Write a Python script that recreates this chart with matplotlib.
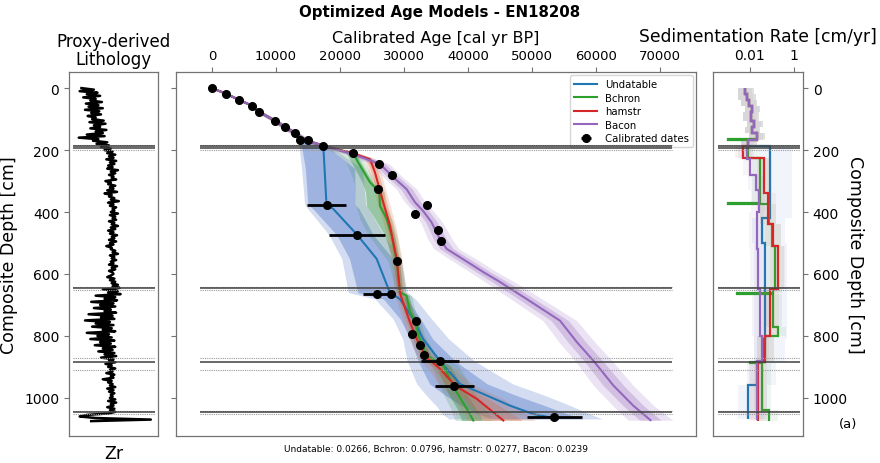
" age model comparison plot for EN18208 "
import matplotlib.pyplot as plt
import numpy as np

# Zr proxy trace, one value every 5 cm (arbitrary units)
zr_step = 5
zr = [14, 28, 12, 32, 20, 35, 16, 30, 24, 37, 19, 33, 22, 38, 18, 34, 25, 36, 21, 30,
      26, 39, 23, 41, 28, 35, 24, 42, 30, 38, 20, 40, 11, 33, 27, 43, 31, 45, 36, 47,
      40, 49, 43, 52, 45, 50, 42, 53, 46, 51, 44, 49, 43, 55, 47, 52, 45, 50, 48, 53,
      41, 47, 44, 52, 46, 50, 43, 54, 40, 48, 45, 51, 47, 56, 44, 50, 46, 53, 49, 51,
      47, 55, 46, 52, 49, 53, 45, 51, 48, 55, 47, 52, 44, 50, 46, 54, 48, 51, 45, 53,
      46, 50, 42, 48, 47, 52, 49, 55, 46, 51, 48, 53, 47, 50, 45, 54, 48, 52, 45, 49,
      50, 47, 43, 51, 46, 52, 48, 55, 49, 57, 38, 55, 44, 58, 30, 52, 40, 54, 25, 50,
      35, 52, 28, 47, 40, 53, 22, 49, 36, 51, 18, 46, 30, 50, 26, 48, 38, 52, 20, 45,
      32, 48, 24, 51, 35, 47, 29, 52, 38, 49, 33, 51, 40, 53, 36, 50, 45, 52, 41, 48,
      44, 52, 46, 49, 42, 51, 47, 50, 38, 48, 44, 49, 46, 52, 43, 50, 45, 51, 47, 49,
      46, 52, 44, 53, 47, 50, 43, 51, 46, 52, 45, 20, 12, 30, 92, 25]

# hiatus / gap depths [cm]
gap_mid = [188, 194, 646, 885, 1047]
gap_edge = [183, 199, 641, 652, 872, 909, 1042, 1053]

# calibrated dates: age [cal yr BP], depth [cm], 1 sigma [yr]
date_age = [0, 2190, 4270, 6300, 7340, 9840, 11400, 12970, 13750, 14950, 17400,
            22080, 26100, 28080, 26000, 33640, 31770, 35260, 35730, 28860, 17920,
            22700, 25830, 27920, 31820, 31300, 32500, 33120, 35625, 37860, 53440]
date_depth = [0, 18, 38, 57, 76, 105, 126, 145, 166, 166, 186,
              211, 246, 282, 325, 376, 406, 457, 492, 559, 376,
              474, 665, 665, 753, 794, 828, 863, 881, 962, 1062]
date_err = [50, 150, 200, 200, 200, 250, 250, 300, 300, 300, 300,
            400, 400, 400, 400, 400, 400, 400, 400, 400, 3100,
            4370, 2280, 500, 400, 400, 400, 400, 2940, 3050, 4300]

# Undatable
und_depth = [0, 18, 38, 57, 76, 105, 126, 145, 166, 186, 260, 376, 390, 474, 551,
             660, 681, 745, 810, 881, 955, 992, 1025, 1052, 1068]
und_age = [0, 2190, 4270, 6300, 7340, 9840, 11400, 12970, 14300, 17400, 17600, 17900,
           18960, 22700, 25730, 27800, 29380, 31450, 33000, 35620, 38750, 42900,
           46560, 50200, 54000]
und_lo68 = [0, 2000, 4000, 6000, 7000, 9500, 11000, 12500, 13700, 14000, 14600, 15000,
            15800, 19500, 21500, 22800, 26800, 29400, 31000, 32200, 34000, 36500,
            39000, 41500, 44000]
und_hi68 = [0, 2400, 4500, 6600, 7700, 10200, 11800, 13400, 14900, 17900, 22300, 22400,
            23000, 25200, 28300, 29400, 30500, 32600, 34500, 38000, 43000, 47500,
            52000, 55500, 58000]
und_lo95 = [0, 1900, 3900, 5900, 6900, 9300, 10800, 12300, 13400, 13600, 14000, 14500,
            15000, 18300, 20300, 21300, 25500, 28300, 29800, 30500, 32000, 33500,
            35000, 36000, 37000]
und_hi95 = [0, 2500, 4600, 6700, 7800, 10400, 12000, 13600, 15200, 18300, 23500, 24000,
            24500, 26800, 29500, 30500, 31800, 34300, 37000, 41000, 47000, 52000,
            56000, 59000, 61000]

# Bchron
bch_depth = [0, 18, 38, 57, 76, 105, 126, 145, 166, 186, 211, 240, 304, 336, 380, 423,
             476, 559, 659, 670, 723, 750, 799, 863, 896, 982, 1035, 1073]
bch_age = [0, 2190, 4270, 6300, 7340, 9840, 11400, 12970, 14300, 17400, 22080, 22850,
           24690, 26150, 26250, 27300, 28080, 28860, 29380, 30400, 30940, 31720, 32240,
           33540, 36140, 38230, 39800, 40830]
bch_lo68 = [0, 2000, 4000, 6000, 7000, 9500, 11000, 12500, 13800, 17000, 21000, 21800,
            23500, 24000, 24170, 25500, 27000, 28300, 29000, 30000, 30500, 31300, 31800,
            33000, 35000, 36800, 38300, 39000]
bch_hi68 = [0, 2400, 4500, 6600, 7700, 10200, 11800, 13400, 14800, 17800, 22500, 23300,
            25100, 26550, 26650, 27700, 28500, 29250, 29800, 30800, 31400, 32200, 32700,
            34200, 37200, 39600, 41300, 42300]
bch_lo95 = [0, 1900, 3900, 5900, 6900, 9300, 10800, 12300, 13500, 16500, 19500, 21000,
            22200, 22340, 22500, 23125, 24500, 27500, 28800, 29600, 30100, 30800, 31300,
            32400, 34300, 36000, 37300, 38000]
bch_hi95 = [0, 2500, 4600, 6700, 7800, 10400, 12000, 13600, 15000, 18000, 23000, 23800,
            25600, 27000, 27100, 28100, 28900, 29600, 30200, 31200, 31800, 32600, 33200,
            35000, 38500, 41000, 42800, 43800]

# hamstr
ham_depth = [0, 18, 38, 57, 76, 105, 126, 145, 166, 186, 211, 229, 272, 369, 444, 552,
             659, 670, 756, 820, 869, 906, 960, 1003, 1073]
ham_age = [0, 2190, 4270, 6300, 7340, 9840, 11400, 12970, 14300, 17400, 22080, 24690,
           25470, 26770, 27810, 28860, 29380, 29500, 30940, 32200, 33540, 35620, 37970,
           41360, 45520]
ham_lo68 = [0, 2000, 4000, 6000, 7000, 9500, 11000, 12500, 13900, 17000, 21600, 24100,
            24900, 26200, 27300, 28400, 28900, 29000, 30400, 31600, 32800, 34700, 36700,
            39500, 42500]
ham_hi68 = [0, 2400, 4500, 6600, 7700, 10200, 11800, 13400, 14700, 17800, 22600, 25200,
            26000, 27300, 28300, 29300, 29850, 30000, 31500, 32800, 34300, 36600, 39300,
            43200, 48500]
ham_lo95 = [0, 1900, 3900, 5900, 6900, 9300, 10800, 12300, 13700, 16800, 21200, 23700,
            24500, 25800, 26900, 28000, 28500, 28600, 29900, 31000, 32100, 33800, 35500,
            37800, 40000]
ham_hi95 = [0, 2500, 4600, 6700, 7800, 10400, 12000, 13600, 14900, 18000, 23000, 25600,
            26400, 27700, 28700, 29700, 30300, 30500, 32000, 33500, 35200, 37800, 41000,
            45500, 50500]

# Bacon
bac_depth = [0, 18, 38, 57, 76, 105, 126, 145, 166, 186, 213, 245, 287, 326, 368, 397,
             433, 487, 519, 552, 594, 626, 681, 751, 820, 880, 960, 1025, 1072]
bac_age = [0, 2190, 4270, 6300, 7340, 9840, 11400, 12970, 14300, 17400, 22000, 26250,
           28300, 30400, 31700, 33000, 34300, 35600, 36670, 39200, 42400, 45000, 49170,
           54375, 57000, 59580, 62700, 65800, 68500]
bac_lo68 = [0, 2000, 4000, 6000, 7000, 9400, 10900, 12400, 13700, 16700, 21200, 25400,
            27400, 29500, 30800, 32100, 33400, 34600, 35600, 38100, 41300, 43800, 47900,
            53000, 55600, 58100, 61100, 64200, 66800]
bac_hi68 = [0, 2400, 4500, 6600, 7700, 10300, 11900, 13500, 14900, 18100, 22800, 27100,
            29200, 31300, 32600, 33900, 35200, 36600, 37700, 40300, 43500, 46200, 50400,
            55700, 58400, 61000, 64300, 67400, 70200]
bac_lo95 = [0, 1800, 3800, 5800, 6800, 9100, 10600, 12100, 13300, 16200, 20600, 24800,
            26800, 28800, 30100, 31400, 32600, 33700, 34700, 37100, 40300, 42700, 46700,
            51700, 54200, 56700, 59600, 62600, 65000]
bac_hi95 = [0, 2600, 4700, 6800, 7900, 10600, 12200, 13800, 15300, 18600, 23400, 27700,
            29800, 32000, 33300, 34600, 36000, 37500, 38600, 41300, 44500, 47300, 51600,
            57000, 59800, 62500, 65800, 69000, 72000]

# sedimentation rates [cm/yr], step edges in depth [cm]
und_sr_edges = [0, 18, 38, 57, 76, 105, 126, 145, 166, 186, 420, 500, 810, 885, 960, 1068]
und_sr = [0.006, 0.007, 0.009, 0.013, 0.011, 0.016, 0.012, 0.02, 0.008,
          0.08, 0.035, 0.05, 0.045, 0.02, 0.008]
und_sr_lo = [0.003, 0.003, 0.004, 0.006, 0.005, 0.007, 0.006, 0.009, 0.004,
             0.02, 0.012, 0.015, 0.015, 0.007, 0.003]
und_sr_hi = [0.015, 0.018, 0.02, 0.03, 0.025, 0.04, 0.03, 0.05, 0.02,
             0.8, 0.4, 0.5, 0.4, 0.15, 0.06]

bch_sr_edges = [0, 18, 38, 57, 76, 105, 126, 145, 163, 166, 186, 225, 372, 375, 440,
                510, 650, 663, 666, 770, 800, 883, 886, 1040, 1073]
bch_sr = [0.006, 0.007, 0.009, 0.013, 0.011, 0.016, 0.012, 0.02, 0.001, 0.008,
          0.008, 0.03, 0.001, 0.07, 0.1, 0.14, 0.11, 0.0026, 0.11, 0.19, 0.05, 0.01,
          0.035, 0.07]
bch_sr_lo = [0.003, 0.003, 0.004, 0.006, 0.005, 0.007, 0.006, 0.009, 0.0008, 0.004,
             0.004, 0.012, 0.0008, 0.03, 0.04, 0.06, 0.05, 0.002, 0.05, 0.08, 0.02,
             0.006, 0.015, 0.03]
bch_sr_hi = [0.015, 0.018, 0.02, 0.03, 0.025, 0.04, 0.03, 0.05, 0.01, 0.02,
             0.02, 0.08, 0.01, 0.15, 0.25, 0.35, 0.3, 0.02, 0.3, 0.45, 0.12,
             0.03, 0.09, 0.18]

ham_sr_edges = [0, 18, 38, 57, 76, 105, 126, 145, 166, 186, 225, 340, 440, 510, 650,
                800, 885, 1073]
ham_sr = [0.006, 0.007, 0.009, 0.013, 0.011, 0.016, 0.012, 0.02, 0.008,
          0.005, 0.045, 0.066, 0.11, 0.19, 0.08, 0.05, 0.023]
ham_sr_lo = [0.003, 0.003, 0.004, 0.006, 0.005, 0.007, 0.006, 0.009, 0.004,
             0.002, 0.02, 0.03, 0.05, 0.08, 0.035, 0.02, 0.01]
ham_sr_hi = [0.015, 0.018, 0.02, 0.03, 0.025, 0.04, 0.03, 0.05, 0.02,
             0.012, 0.1, 0.15, 0.25, 0.4, 0.2, 0.12, 0.06]

bac_sr_edges = [0, 18, 38, 57, 76, 105, 126, 145, 166, 186, 230, 280, 330, 400, 520,
                650, 800, 880, 1072]
bac_sr = [0.006, 0.007, 0.009, 0.013, 0.011, 0.016, 0.012, 0.02, 0.008,
          0.007, 0.01, 0.018, 0.025, 0.02, 0.023, 0.03, 0.035, 0.02]
bac_sr_lo = [0.003, 0.003, 0.004, 0.006, 0.005, 0.007, 0.006, 0.009, 0.004,
             0.003, 0.005, 0.008, 0.011, 0.009, 0.01, 0.013, 0.015, 0.009]
bac_sr_hi = [0.012, 0.014, 0.018, 0.025, 0.022, 0.032, 0.025, 0.04, 0.016,
             0.015, 0.02, 0.04, 0.05, 0.045, 0.05, 0.065, 0.07, 0.045]

names = ["Undatable", "Bchron", "hamstr", "Bacon"]
scores = [0.0266, 0.0796, 0.0277, 0.0239]
line_cols = ["#1f77b4", "#2ca02c", "#d62728", "#9467bd"]
band_cols = ["#5077c8", "#2e8c45", "#d2693c", "#9467bd"]
band_alpha = [(0.25, 0.4), (0.18, 0.38), (0.2, 0.3), (0.18, 0.28)]

models = [
    (und_depth, und_age, und_lo68, und_hi68, und_lo95, und_hi95),
    (bch_depth, bch_age, bch_lo68, bch_hi68, bch_lo95, bch_hi95),
    (ham_depth, ham_age, ham_lo68, ham_hi68, ham_lo95, ham_hi95),
    (bac_depth, bac_age, bac_lo68, bac_hi68, bac_lo95, bac_hi95),
]
rates = [
    (und_sr_edges, und_sr, und_sr_lo, und_sr_hi),
    (bch_sr_edges, bch_sr, bch_sr_lo, bch_sr_hi),
    (ham_sr_edges, ham_sr, ham_sr_lo, ham_sr_hi),
    (bac_sr_edges, bac_sr, bac_sr_lo, bac_sr_hi),
]

fig = plt.figure(figsize=(8.8, 4.64), dpi=100)
ax1 = fig.add_axes([0.0784, 0.0582, 0.1011, 0.7845])
ax2 = fig.add_axes([0.2, 0.0582, 0.5909, 0.7845])
ax3 = fig.add_axes([0.8102, 0.0582, 0.1023, 0.7845])
ylim = (1123, -52)

for ax in (ax1, ax2, ax3):
    for s in ax.spines.values():
        s.set_color("0.45")
        s.set_linewidth(0.9)
    ax.set_ylim(ylim)
    ax.set_yticks([0, 200, 400, 600, 800, 1000])
    ax.tick_params(labelsize=10, color="0.45")


def draw_gaps(ax, x0, x1):
    ax.hlines(gap_edge, x0, x1, colors="0.6", lw=0.8, linestyles=(0, (1, 1)), zorder=6)
    ax.hlines(gap_mid, x0, x1, colors="0.25", lw=1.1, zorder=6)


# lithology
zr_depth = np.arange(len(zr)) * zr_step
ax1.plot(zr, zr_depth, color="k", lw=1.8)
ax1.set_xlim(0, 100)
ax1.set_xticks([])
draw_gaps(ax1, 4, 97)
ax1.set_ylabel("Composite Depth [cm]", fontsize=12.5)
ax1.yaxis.set_label_coords(-0.57, 0.5)
ax1.set_xlabel("Zr", fontsize=12.5, labelpad=6)
ax1.set_title("Proxy-derived\nLithology", fontsize=12, pad=6, linespacing=1.0)

# age models
for (dep, age, lo68, hi68, lo95, hi95), name, lc, bc, (a95, a68) in zip(
        models, names, line_cols, band_cols, band_alpha):
    ax2.fill_betweenx(dep, lo95, hi95, color=bc, alpha=a95, lw=0)
    ax2.fill_betweenx(dep, lo68, hi68, color=bc, alpha=a68, lw=0)
    ax2.plot(age, dep, color=lc, lw=1.5, label=name)
ax2.errorbar(date_age, date_depth, xerr=date_err, fmt="o", color="k", ms=5.5,
             elinewidth=2, capsize=0, label="Calibrated dates", zorder=8)
draw_gaps(ax2, -1900, 71900)
ax2.set_xlim(-5600, 75600)
ax2.set_xticks(np.arange(0, 70001, 10000))
ax2.xaxis.tick_top()
ax2.xaxis.set_label_position("top")
ax2.tick_params(axis="x", labelsize=9.5)
ax2.set_yticklabels([])
ax2.set_xlabel("Calibrated Age [cal yr BP]", fontsize=11.5, labelpad=5)
ax2.legend(loc="upper right", fontsize=7.3, borderaxespad=0.3, handlelength=2.2,
           labelspacing=0.35)
ax2.text(0.5, -0.033, ", ".join("%s: %.4f" % (n, s) for n, s in zip(names, scores)),
         transform=ax2.transAxes, ha="center", va="center", fontsize=6.5)

# sedimentation rates
for (edges, sr, lo, hi), lc, bc in zip(rates, line_cols, band_cols):
    ax3.stairs(hi, edges, baseline=lo, fill=True, orientation="horizontal",
               color=bc, alpha=0.08, lw=0)
    ax3.stairs(sr, edges, baseline=None, orientation="horizontal", color=lc, lw=1.6)
ax3.set_xscale("log")
ax3.set_xlim(2.1e-4, 2.57)
draw_gaps(ax3, 3.5e-4, 1.86)
ax3.set_xticks([0.01, 1])
ax3.set_xticklabels(["0.01", "1"])
ax3.minorticks_off()
ax3.xaxis.tick_top()
ax3.yaxis.tick_right()
ax3.yaxis.set_label_position("right")
ax3.set_ylabel("Composite Depth [cm]", fontsize=12.5, rotation=270, va="center")
ax3.yaxis.set_label_coords(1.58, 0.5)
ax3.set_title("Sedimentation Rate [cm/yr]", fontsize=12.3, pad=22)
ax3.text(1.5, 0.033, "(a)", transform=ax3.transAxes, ha="center", va="center",
         fontsize=9.5)

fig.suptitle("Optimized Age Models - EN18208", fontsize=10.8, fontweight="bold",
             x=0.5, y=0.99)
fig.savefig("out.png", dpi=100)
